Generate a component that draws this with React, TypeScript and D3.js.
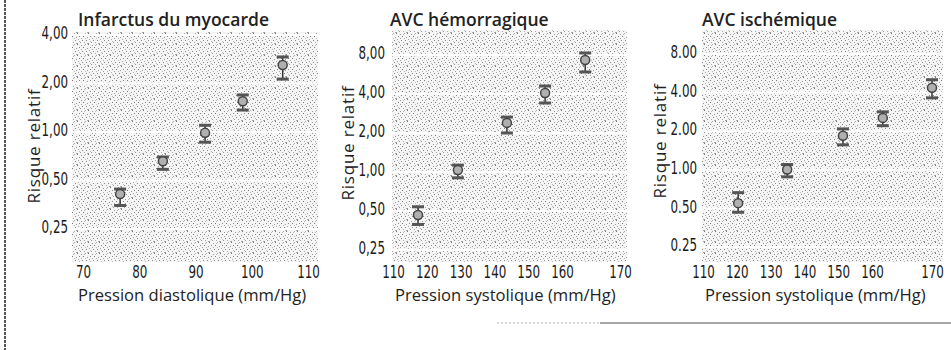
import React, { useEffect, useRef } from 'react';
import * as d3 from 'd3';

// Infarctus du myocarde vs pression diastolique
const miPressure = [76.6, 84.2, 91.7, 98.4, 105.5];
const miRisk = [0.4, 0.64, 0.96, 1.51, 2.53];
const miLow = [0.34, 0.57, 0.84, 1.33, 2.07];
const miHigh = [0.43, 0.68, 1.07, 1.65, 2.84];

// AVC hémorragique vs pression systolique
const hemPressure = [117.4, 129.2, 143.7, 155, 164];
const hemRisk = [0.45, 1.0, 2.31, 3.93, 7.07];
const hemLow = [0.38, 0.87, 1.93, 3.29, 5.71];
const hemHigh = [0.52, 1.09, 2.56, 4.45, 8.0];

// AVC ischémique vs pression systolique
const isPressure = [120.4, 134.9, 151.4, 161.8, 170];
const isRisk = [0.53, 0.97, 1.78, 2.45, 4.21];
const isLow = [0.45, 0.85, 1.51, 2.13, 3.51];
const isHigh = [0.64, 1.06, 2.01, 2.73, 4.86];

const diastolicTicks = [70, 80, 90, 100, 110];
const systolicTicks = [110, 120, 130, 140, 150, 160, 170];
const riskTicksSmall = [0.25, 0.5, 1, 2, 4];
const riskTicksLarge = [0.25, 0.5, 1, 2, 4, 8];

const panels = [
  {
    title: 'Infarctus du myocarde',
    xTitle: 'Pression diastolique (mm/Hg)',
    xs: miPressure, rr: miRisk, lo: miLow, hi: miHigh,
    xTicks: diastolicTicks, yTicks: riskTicksSmall, sep: ',',
    plot: [72, 318, 32, 262],
    xDomain: [70, 110], xRange: [83, 308],
    yDomain: [0.25, 4], yRange: [227, 33],
    labelRight: 68, yTitle: [40, 146], titleX: 78, xTitleX: 78,
  },
  {
    title: 'AVC hémorragique',
    xTitle: 'Pression systolique (mm/Hg)',
    xs: hemPressure, rr: hemRisk, lo: hemLow, hi: hemHigh,
    xTicks: systolicTicks, yTicks: riskTicksLarge, sep: ',',
    plot: [392, 627, 30, 262],
    xDomain: [110, 160, 170], xRange: [393, 562, 620],
    yDomain: [0.25, 8], yRange: [248, 53],
    labelRight: 385, yTitle: [354, 143], titleX: 390, xTitleX: 395,
  },
  {
    title: 'AVC ischémique',
    xTitle: 'Pression systolique (mm/Hg)',
    xs: isPressure, rr: isRisk, lo: isLow, hi: isHigh,
    xTicks: systolicTicks, yTicks: riskTicksLarge, sep: '.',
    plot: [702, 943, 30, 262],
    xDomain: [110, 160, 170], xRange: [703, 872, 932],
    yDomain: [0.25, 8], yRange: [245, 52],
    labelRight: 697, yTitle: [666, 141], titleX: 702, xTitleX: 705,
  },
];

const tickFont = '"DejaVu Sans", sans-serif';
const textFont = '"Open Sans", "Noto Sans", sans-serif';
const squeeze = 0.66; // condensed look of the tick digits

export default function App() {
  const svgRef = useRef<SVGSVGElement>(null);

  useEffect(() => {
    const svg = d3.select(svgRef.current);
    svg.selectAll('*').remove();

    // stippled background texture
    const defs = svg.append('defs');
    const pat = defs.append('pattern')
      .attr('id', 'stipple')
      .attr('width', 11).attr('height', 11)
      .attr('patternUnits', 'userSpaceOnUse');
    pat.append('rect').attr('width', 11).attr('height', 11).attr('fill', '#f5f5f5');
    const dots = [
      [0, 0, '#777'], [4, 1, '#999'], [8, 0, '#aaa'], [2, 3, '#888'], [6, 3, '#777'],
      [10, 4, '#999'], [1, 6, '#aaa'], [5, 7, '#888'], [9, 7, '#888'], [3, 9, '#999'],
      [7, 9, '#aaa'], [0, 10, '#999'], [10, 10, '#aaa'], [8, 5, '#bbb'],
      [2, 8, '#bbb'], [7, 1, '#bbb'], [4, 5, '#aaa'],
    ];
    dots.forEach(([dx, dy, c]) => {
      pat.append('rect').attr('x', dx).attr('y', dy).attr('width', 1).attr('height', 1).attr('fill', c as string);
    });

    // page border remnants
    svg.append('line')
      .attr('x1', 5).attr('x2', 5).attr('y1', 0).attr('y2', 350)
      .attr('stroke', '#555').attr('stroke-width', 2).attr('stroke-dasharray', '3,1');
    svg.append('line')
      .attr('x1', 497).attr('x2', 600).attr('y1', 323).attr('y2', 323)
      .attr('stroke', '#ccc').attr('stroke-width', 1.5).attr('stroke-dasharray', '2,2');
    svg.append('line')
      .attr('x1', 600).attr('x2', 951).attr('y1', 323).attr('y2', 323)
      .attr('stroke', '#888').attr('stroke-width', 1.5);

    panels.forEach(p => {
      const [x0, x1, y0, y1] = p.plot;
      const x = d3.scaleLinear().domain(p.xDomain).range(p.xRange);
      const y = d3.scaleLog().domain(p.yDomain).range(p.yRange);
      const g = svg.append('g');

      g.append('rect')
        .attr('x', x0).attr('y', y0)
        .attr('width', x1 - x0).attr('height', y1 - y0)
        .attr('fill', 'url(#stipple)');

      // white grid lines
      g.selectAll('.grid')
        .data(p.yTicks)
        .join('line')
        .attr('x1', x0).attr('x2', x1)
        .attr('y1', d => y(d) + 2).attr('y2', d => y(d) + 2)
        .attr('stroke', '#fff').attr('stroke-width', 2);

      const fmt = (d: number) => d3.format('.2f')(d).replace('.', p.sep);
      const pad = x0 - p.labelRight;

      const xAxis = g.append('g')
        .attr('transform', `translate(0,${y1})`)
        .call(d3.axisBottom(x).tickValues(p.xTicks).tickSize(0).tickPadding(3).tickFormat(d => String(d)));
      const yAxis = g.append('g')
        .attr('transform', `translate(${x0},0)`)
        .call(d3.axisLeft(y).tickValues(p.yTicks).tickSize(0).tickPadding(pad).tickFormat(d => fmt(+d)));
      [xAxis, yAxis].forEach(a => {
        a.select('.domain').remove();
        a.selectAll('text')
          .attr('font-family', tickFont)
          .attr('font-size', 18)
          .attr('fill', '#1a1a1a')
          .attr('transform', `scale(${squeeze},1)`);
      });
      yAxis.selectAll('text').attr('x', -pad / squeeze);

      // error bars
      const marks = g.selectAll('.mark')
        .data(p.xs.map((v, i) => ({ x: v, rr: p.rr[i], lo: p.lo[i], hi: p.hi[i] })))
        .join('g');
      marks.append('line')
        .attr('x1', d => x(d.x)).attr('x2', d => x(d.x))
        .attr('y1', d => y(d.hi)).attr('y2', d => y(d.lo))
        .attr('stroke', '#333').attr('stroke-width', 1.5);
      marks.append('rect')
        .attr('x', d => x(d.x) - 6).attr('y', d => y(d.hi) - 1.5)
        .attr('width', 12).attr('height', 3)
        .attr('fill', '#555');
      marks.append('rect')
        .attr('x', d => x(d.x) - 6).attr('y', d => y(d.lo) - 1.5)
        .attr('width', 12).attr('height', 3)
        .attr('fill', '#555');
      marks.append('circle')
        .attr('cx', d => x(d.x)).attr('cy', d => y(d.rr))
        .attr('r', 4.5)
        .attr('fill', '#b0b0b0').attr('stroke', '#444').attr('stroke-width', 1.5);

      g.append('text')
        .attr('x', p.titleX).attr('y', 26)
        .attr('font-family', textFont).attr('font-size', 17.5).attr('font-weight', 600)
        .attr('fill', '#222')
        .text(p.title);

      g.append('text')
        .attr('x', p.xTitleX).attr('y', 301)
        .attr('font-family', textFont).attr('font-size', 16.6)
        .attr('fill', '#222')
        .text(p.xTitle);

      g.append('text')
        .attr('transform', `translate(${p.yTitle[0]},${p.yTitle[1]}) rotate(-90)`)
        .attr('text-anchor', 'middle')
        .attr('font-family', textFont).attr('font-size', 17)
        .attr('letter-spacing', 0.8)
        .attr('fill', '#222')
        .text('Risque relatif');
    });
  }, []);

  return (
    <svg
      ref={svgRef}
      width={951}
      height={350}
      style={{ position: 'absolute', left: 0, top: 0, background: '#fff' }}
    />
  );
}
